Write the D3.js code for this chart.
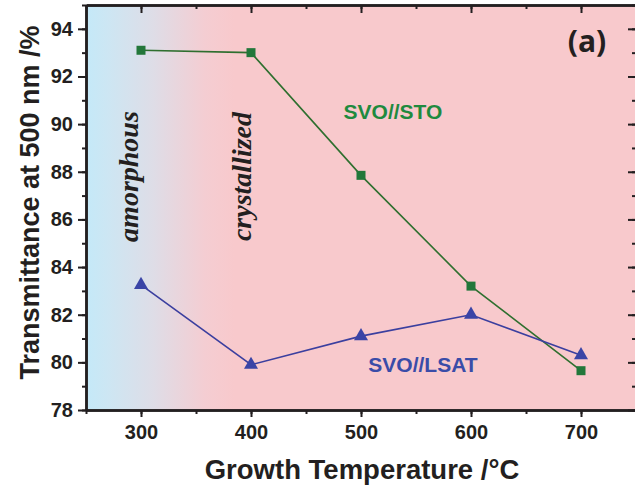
<!DOCTYPE html>
<html>
<head>
<meta charset="utf-8">
<script src="https://cdn.jsdelivr.net/npm/d3@7"></script>
<style>
body { margin: 0; background: #fff; }
text { font-family: "Liberation Sans", Arial, sans-serif; }
</style>
</head>
<body>
<div id="chart"></div>
<script>
const temps = [300, 400, 500, 600, 700]
const stoValues = [93.1, 93.0, 87.85, 83.2, 79.65]
const lsatValues = [83.25, 79.9, 81.1, 82.0, 80.3]
const xTicks = [300, 400, 500, 600, 700]
const yTicks = [78, 80, 82, 84, 86, 88, 90, 92, 94]

const svgw = 635
const svgh = 495
const axisColor = '#231f20'

const svg = d3.select('#chart')
    .append('svg')
    .attr('width', svgw)
    .attr('height', svgh)

const xScale = d3.scaleLinear().domain([250, 750]).range([86, 636])
const yScale = d3.scaleLinear().domain([78, 95]).range([410, 5])

// background gradient (blue for amorphous -> pink for crystallized)
const defs = svg.append('defs')
const grad = defs.append('linearGradient')
    .attr('id', 'bg')
    .attr('gradientUnits', 'userSpaceOnUse')
    .attr('x1', xScale(250)).attr('x2', xScale(385))
    .attr('y1', 0).attr('y2', 0)
grad.append('stop').attr('offset', 0).attr('stop-color', '#c4e9f8')
grad.append('stop').attr('offset', 0.15).attr('stop-color', '#cde6f3')
grad.append('stop').attr('offset', 0.45).attr('stop-color', '#dedde7')
grad.append('stop').attr('offset', 0.8).attr('stop-color', '#f4cdd2')
grad.append('stop').attr('offset', 1).attr('stop-color', '#f8c9cc')

svg.append('rect')
    .attr('x', xScale(250))
    .attr('y', yScale(95))
    .attr('width', xScale(750) - xScale(250))
    .attr('height', yScale(78) - yScale(95))
    .attr('fill', 'url(#bg)')

// phase labels
svg.append('text')
    .attr('transform', `translate(${xScale(300) - 3},${yScale(87.8)}) rotate(-90)`)
    .attr('text-anchor', 'middle')
    .style('font-family', '"Liberation Serif", "Times New Roman", serif')
    .style('font-style', 'italic')
    .style('font-weight', 'bold')
    .style('font-size', '28px')
    .attr('fill', '#231f20')
    .text('amorphous')

svg.append('text')
    .attr('transform', `translate(${xScale(400)},${yScale(87.8)}) rotate(-90)`)
    .attr('text-anchor', 'middle')
    .style('font-family', '"Liberation Serif", "Times New Roman", serif')
    .style('font-style', 'italic')
    .style('font-weight', 'bold')
    .style('font-size', '28px')
    .attr('fill', '#231f20')
    .text('crystallized')

// axes
const minorX = d3.range(250, 751, 50)
const minorY = d3.range(78, 96, 1)

function styleAxis(g) {
    g.selectAll('path').attr('stroke', axisColor).attr('stroke-width', 2.5)
    g.selectAll('line').attr('stroke', axisColor).attr('stroke-width', 2)
    g.selectAll('text')
        .attr('fill', axisColor)
        .style('font-size', '20px')
        .style('font-weight', 'bold')
}

// minor ticks
svg.append('g').attr('transform', `translate(0,${yScale(78)})`)
    .call(d3.axisBottom(xScale).tickValues(minorX).tickSize(4).tickFormat('').tickSizeOuter(0))
    .call(styleAxis)
svg.append('g').attr('transform', `translate(0,${yScale(95)})`)
    .call(d3.axisTop(xScale).tickValues(minorX).tickSize(-4).tickFormat('').tickSizeOuter(0))
    .call(styleAxis)
svg.append('g').attr('transform', `translate(${xScale(250)},0)`)
    .call(d3.axisLeft(yScale).tickValues(minorY).tickSize(4).tickFormat('').tickSizeOuter(0))
    .call(styleAxis)
svg.append('g').attr('transform', `translate(${xScale(750)},0)`)
    .call(d3.axisRight(yScale).tickValues(minorY).tickSize(-4).tickFormat('').tickSizeOuter(0))
    .call(styleAxis)

// major ticks
svg.append('g').attr('transform', `translate(0,${yScale(78)})`)
    .call(d3.axisBottom(xScale).tickValues(xTicks).tickSize(7).tickPadding(8).tickSizeOuter(0))
    .call(styleAxis)
svg.append('g').attr('transform', `translate(0,${yScale(95)})`)
    .call(d3.axisTop(xScale).tickValues(xTicks).tickSize(-8).tickFormat('').tickSizeOuter(0))
    .call(styleAxis)
svg.append('g').attr('transform', `translate(${xScale(250)},0)`)
    .call(d3.axisLeft(yScale).tickValues(yTicks).tickSize(8).tickPadding(5).tickSizeOuter(0))
    .call(styleAxis)
svg.append('g').attr('transform', `translate(${xScale(750)},0)`)
    .call(d3.axisRight(yScale).tickValues(yTicks).tickSize(-8).tickFormat('').tickSizeOuter(0))
    .call(styleAxis)

// axis titles
svg.append('text')
    .attr('x', 362)
    .attr('y', 479)
    .attr('text-anchor', 'middle')
    .style('font-size', '27.5px')
    .style('font-weight', 'bold')
    .attr('fill', axisColor)
    .text('Growth Temperature /°C')

svg.append('text')
    .attr('transform', `translate(39,${(yScale(78) + yScale(95)) / 2 - 5}) rotate(-90)`)
    .attr('text-anchor', 'middle')
    .style('font-size', '27px')
    .style('font-weight', 'bold')
    .attr('fill', axisColor)
    .text('Transmittance at 500 nm /%')

// series
const stoColor = '#2f6f2f'
const stoMarker = '#22773a'
const lsatColor = '#3b3f9f'
const lsatMarker = '#3a44a6'

const line = d3.line()
    .x((d, i) => xScale(temps[i]))
    .y(d => yScale(d))

svg.append('path')
    .datum(stoValues)
    .attr('d', line)
    .attr('fill', 'none')
    .attr('stroke', stoColor)
    .attr('stroke-width', 1.6)

svg.append('path')
    .datum(lsatValues)
    .attr('d', line)
    .attr('fill', 'none')
    .attr('stroke', lsatColor)
    .attr('stroke-width', 1.6)

svg.selectAll('.sto')
    .data(stoValues)
    .enter()
    .append('rect')
    .attr('class', 'sto')
    .attr('x', (d, i) => xScale(temps[i]) - 4.5)
    .attr('y', d => yScale(d) - 4.5)
    .attr('width', 9)
    .attr('height', 9)
    .attr('fill', stoMarker)

const tri = d3.symbol().type(d3.symbolTriangle).size(85)
svg.selectAll('.lsat')
    .data(lsatValues)
    .enter()
    .append('path')
    .attr('class', 'lsat')
    .attr('d', tri)
    .attr('transform', (d, i) => `translate(${xScale(temps[i])},${yScale(d)})`)
    .attr('fill', lsatMarker)

// series labels
svg.append('text')
    .attr('x', 393)
    .attr('y', 119)
    .attr('text-anchor', 'middle')
    .style('font-size', '21px')
    .style('font-weight', 'bold')
    .attr('fill', '#1f8a3e')
    .text('SVO//STO')

svg.append('text')
    .attr('x', 423)
    .attr('y', 372)
    .attr('text-anchor', 'middle')
    .style('font-size', '21px')
    .style('font-weight', 'bold')
    .attr('fill', '#3a4ca8')
    .text('SVO//LSAT')

svg.append('text')
    .attr('x', 587)
    .attr('y', 52)
    .attr('text-anchor', 'middle')
    .style('font-family', '"Open Sans", "Noto Sans", sans-serif')
    .style('font-size', '30px')
    .style('font-weight', 'bold')
    .attr('fill', axisColor)
    .text('(a)')
</script>
</body>
</html>
